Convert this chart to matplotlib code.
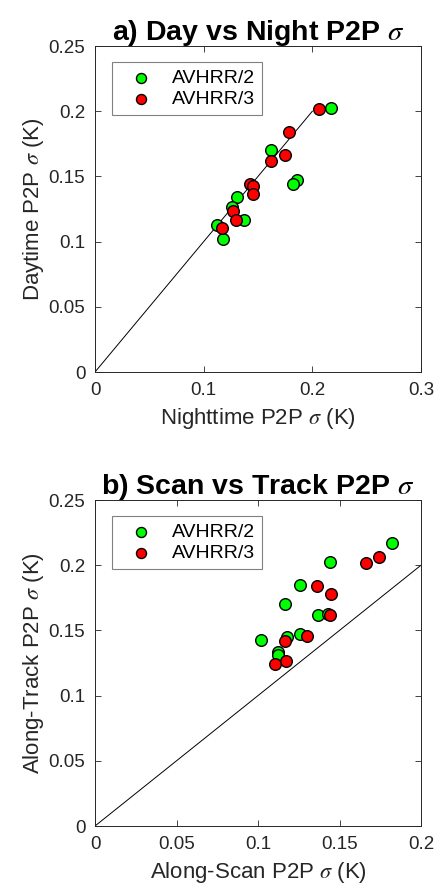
import numpy as np
import matplotlib
matplotlib.use("Agg")
import matplotlib.pyplot as plt
from matplotlib.ticker import FuncFormatter

plt.rcParams['font.family'] = ['Liberation Sans', 'DejaVu Sans']
plt.rcParams['mathtext.fontset'] = 'stix'

# Day vs night P2P sigma (K)
night_avhrr2 = [0.2169, 0.1623, 0.1856, 0.1819, 0.1307, 0.1264, 0.1371, 0.1120, 0.1181]
day_avhrr2 = [0.2023, 0.1704, 0.1469, 0.1444, 0.1339, 0.1265, 0.1163, 0.1128, 0.1020]
night_avhrr3 = [0.2058, 0.1782, 0.1745, 0.1623, 0.1429, 0.1457, 0.1451, 0.1267, 0.1298, 0.1172]
day_avhrr3 = [0.2018, 0.1839, 0.1666, 0.1615, 0.1444, 0.1423, 0.1367, 0.1235, 0.1163, 0.1107]

# Along-scan vs along-track P2P sigma (K)
scan_avhrr2 = [0.1822, 0.1443, 0.1259, 0.1163, 0.1371, 0.1427, 0.1257, 0.1178, 0.1020, 0.1124, 0.1124]
track_avhrr2 = [0.2171, 0.2026, 0.1852, 0.1703, 0.1621, 0.1624, 0.1471, 0.1450, 0.1425, 0.1338, 0.1309]
scan_avhrr3 = [0.1741, 0.1661, 0.1365, 0.1445, 0.1439, 0.1300, 0.1163, 0.1169, 0.1104]
track_avhrr3 = [0.2064, 0.2020, 0.1841, 0.1783, 0.1616, 0.1455, 0.1422, 0.1269, 0.1240]

one_to_one = [0, 0.2]

fmt = FuncFormatter(lambda v, p: '%g' % round(v, 4))
edge = '#262626'


def style_axes(ax, xticks, yticks):
    ax.set_xticks(xticks)
    ax.set_yticks(yticks)
    ax.xaxis.set_major_formatter(fmt)
    ax.yaxis.set_major_formatter(fmt)
    ax.set_xlim(xticks[0], xticks[-1])
    ax.set_ylim(yticks[0], yticks[-1])
    ax.tick_params(direction='in', top=True, right=True, labelsize=13.5,
                   colors=edge, labelcolor='#262626', length=4, width=0.6,
                   pad=7)
    for s in ax.spines.values():
        s.set_color(edge)
        s.set_linewidth(0.7)


def panel(ax, x2, y2, x3, y3, title, xlabel, ylabel, xticks):
    ax.plot(one_to_one, one_to_one, color='k', lw=0.7, zorder=1)
    ax.scatter(x2, y2, s=70, c='#00ff00', edgecolors='k', linewidths=1.0,
               label='AVHRR/2', zorder=3)
    ax.scatter(x3, y3, s=70, c='#ff0000', edgecolors='k', linewidths=1.0,
               label='AVHRR/3', zorder=3)
    style_axes(ax, xticks, np.arange(0, 0.2501, 0.05))
    ax.set_title(title, fontsize=20.5, fontweight='bold', pad=4)
    ax.set_xlabel(xlabel, fontsize=16, color='#262626', labelpad=5)
    ax.set_ylabel(ylabel, fontsize=16, color='#262626', labelpad=1.5)
    leg = ax.legend(loc='upper left', fontsize=14, fancybox=False,
                    framealpha=1, edgecolor='#808080', handlelength=2.3,
                    handletextpad=0.45, borderpad=0.35, labelspacing=0.2,
                    borderaxespad=0, bbox_to_anchor=(0.051, 0.95),
                    scatterpoints=1)
    leg.get_frame().set_linewidth(0.8)
    for h in leg.legend_handles:
        h.set_sizes([52])


fig = plt.figure(figsize=(4.38, 8.90), dpi=100)
ax1 = fig.add_axes([0.2169, 0.582, 0.7443, 0.3663])
ax2 = fig.add_axes([0.2169, 0.0719, 0.7443, 0.3663])

panel(ax1, night_avhrr2, day_avhrr2, night_avhrr3, day_avhrr3,
      r'a) Day vs Night P2P $\sigma$',
      r'Nighttime P2P $\sigma$ (K)', r'Daytime P2P $\sigma$ (K)',
      np.arange(0, 0.3001, 0.1))
panel(ax2, scan_avhrr2, track_avhrr2, scan_avhrr3, track_avhrr3,
      r'b) Scan vs Track P2P $\sigma$',
      r'Along-Scan P2P $\sigma$ (K)', r'Along-Track P2P $\sigma$ (K)',
      np.arange(0, 0.2001, 0.05))

fig.savefig('out.png', dpi=100)
